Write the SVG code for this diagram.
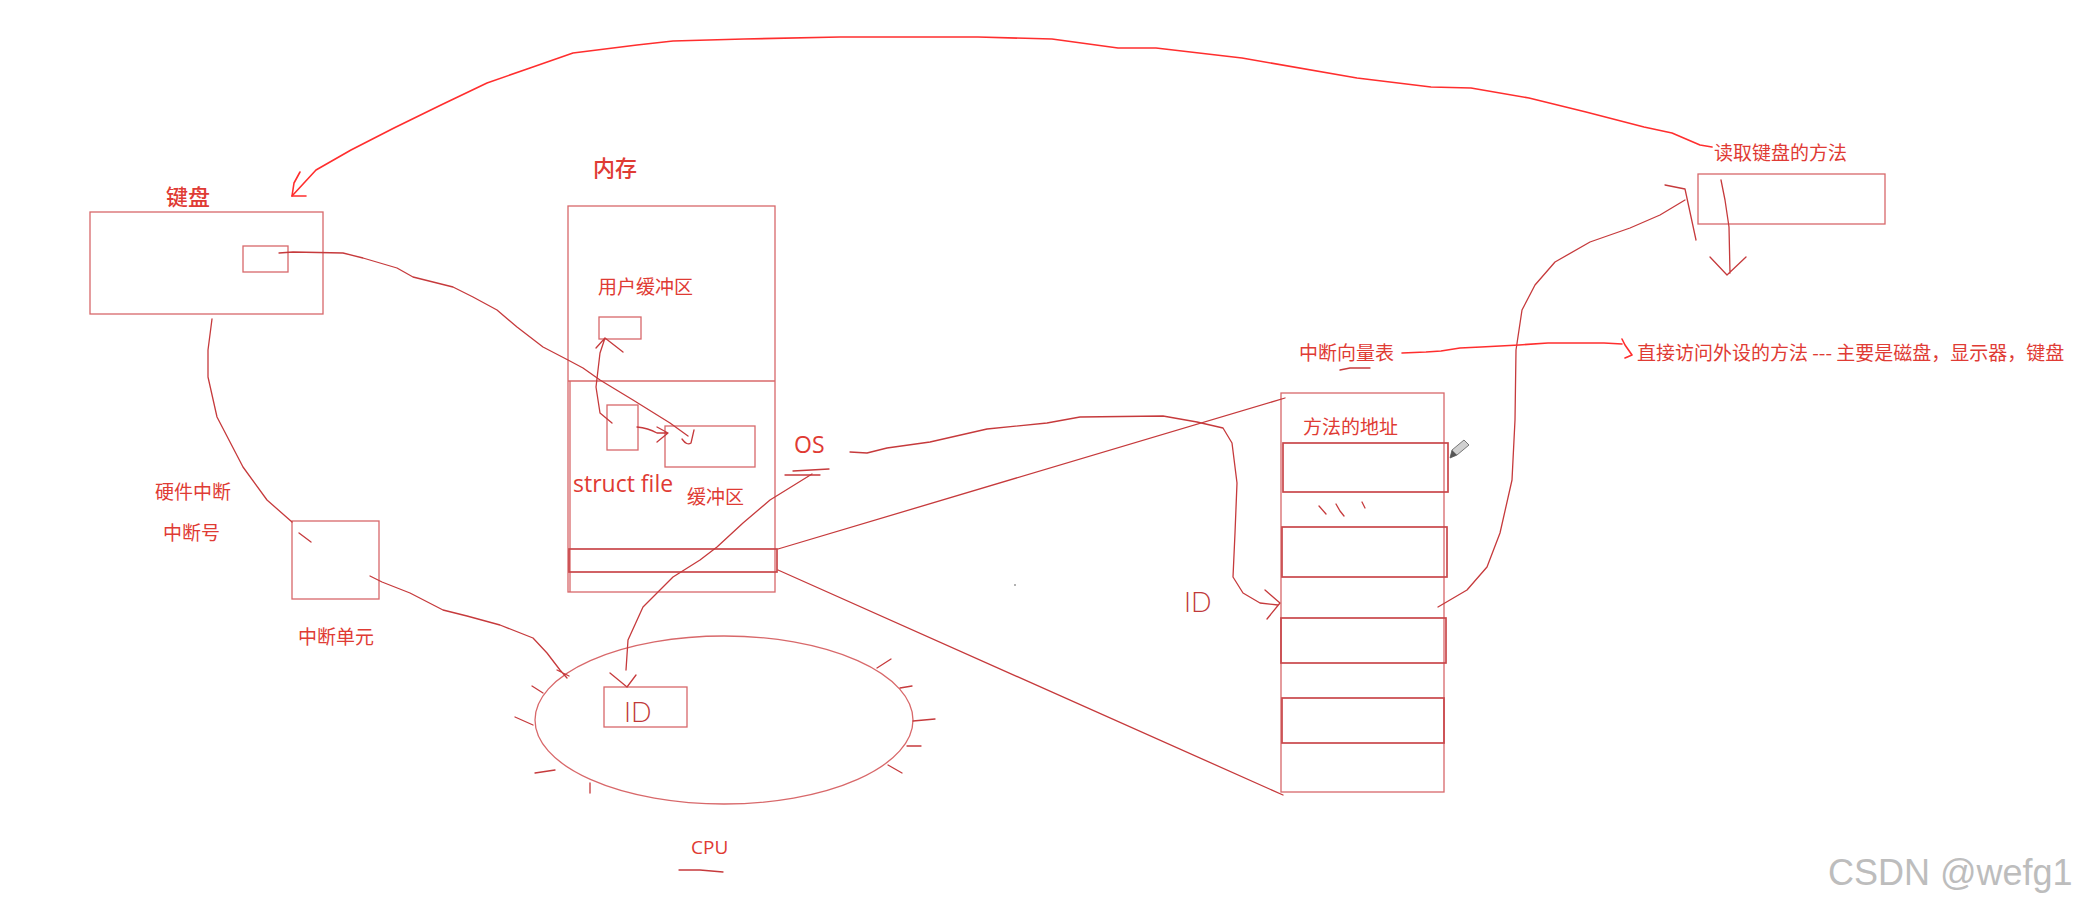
<svg xmlns="http://www.w3.org/2000/svg" width="2084" height="906" viewBox="0 0 2084 906">
<style>
.box{fill:none;stroke:#d8686a;stroke-width:1.3}
.box2{fill:none;stroke:#c9474a;stroke-width:1.7}
.ink{fill:none;stroke:#c63a3c;stroke-width:1.3;stroke-linecap:round;stroke-linejoin:round}
.bright{fill:none;stroke:#ff2e2e;stroke-width:1.6;stroke-linecap:round;stroke-linejoin:round}
.t{font-family:"Noto Sans CJK SC",sans-serif;fill:#df3b34;font-size:19px}
.big{font-size:22px;font-weight:500}
.lat{font-family:"Open Sans","Noto Sans",sans-serif;fill:#e03a33}
.hand{font-family:Lato,"Liberation Sans",sans-serif;font-weight:300;fill:#c0393a;font-size:27px}
</style>
<rect width="2084" height="906" fill="#ffffff"/>

<g id="keyboard">
<text class="t big" x="166" y="205">键盘</text>
<rect class="box" x="90" y="212" width="233" height="102"/>
<rect class="box" x="243" y="246" width="45" height="26"/>
</g>

<g id="interrupt-labels">
<text class="t" x="155" y="499">硬件中断</text>
<text class="t" x="163" y="540">中断号</text>
</g>

<g id="interrupt-unit">
<rect class="box" x="292" y="521" width="87" height="78"/>
<path class="ink" d="M299,533 L311,542"/>
<text class="t" x="298" y="644">中断单元</text>
</g>

<g id="memory">
<text class="t big" x="593" y="176">内存</text>
<rect class="box" x="568" y="206" width="207" height="386"/>
<line class="box" x1="568" y1="381" x2="775" y2="381"/>
<line class="box" x1="570" y1="381" x2="570" y2="592"/>
<text class="t" x="598" y="294">用户缓冲区</text>
<rect class="box" x="599" y="317" width="42" height="22"/>
<rect class="box" x="607" y="405" width="31" height="45"/>
<rect class="box" x="665" y="426" width="90" height="41"/>
<text class="lat" x="573" y="492" font-size="23">struct file</text>
<text class="t" x="687" y="504">缓冲区</text>
<rect class="box2" x="569" y="549" width="208" height="23"/>
</g>

<g id="os">
<text class="lat" x="794" y="453" font-size="23">OS</text>
<path class="ink" d="M785,475 L820,475 M793,471 L829,469"/>
</g>

<g id="cpu">
<ellipse class="box" cx="724" cy="720" rx="189" ry="84"/>
<rect class="box" x="604" y="687" width="83" height="40"/>
<text class="hand" x="624" y="722">ID</text>
<path class="ink" d="M532,686 L543,693 M515,717 L533,725 M535,773 L555,770 M590,783 L590,793 M877,668 L891,659 M900,688 L912,686 M913,721 L935,719 M907,746 L921,746 M888,765 L902,773"/>
<text class="lat" x="691" y="854" font-size="19">CPU</text>
<path class="ink" d="M679,870 L700,870 L723,872"/>
</g>

<g id="vector-table">
<text class="t" x="1299" y="360">中断向量表</text>
<path class="ink" d="M1340,370 L1350,368 L1370,368"/>
<rect class="box" x="1281" y="393" width="163" height="399"/>
<text class="t" x="1303" y="434">方法的地址</text>
<rect class="box2" x="1283" y="443" width="165" height="49"/>
<rect class="box2" x="1282" y="527" width="165" height="50"/>
<rect class="box2" x="1281" y="618" width="165" height="45"/>
<rect class="box2" x="1282" y="698" width="162" height="45"/>
<path class="ink" d="M1319,506 L1326,514 M1336,504 L1340,511 L1344,516 M1362,502 L1365,508"/>
<text class="hand" x="1184" y="612">ID</text>
<g id="pencil">
<path d="M1450,458 L1452,450 L1464,440 L1469,445 L1457,455 Z" fill="#d0d0d0" stroke="#777777" stroke-width="1"/>
<path d="M1450,458 L1452,450 L1457,455 Z" fill="#555555"/>
</g>
</g>

<g id="device-method">
<text class="t" x="1637" y="360">直接访问外设的方法 --- 主要是磁盘，显示器，键盘</text>
</g>

<g id="read-method">
<text class="t" x="1714" y="160">读取键盘的方法</text>
<rect class="box" x="1698" y="174" width="187" height="50"/>
</g>

<g id="connectors">
<path class="bright" d="M292,196 L316,170 L351,150 L394,128 L441,105 L487,83 L530,68 L573,53 L637,45 L673,41 L744,39 L840,37 L978,37 L1052,39 L1118,48 L1156,48 L1242,58 L1357,78 L1431,87 L1471,88 L1529,98 L1586,112 L1644,127 L1672,133 L1700,145 L1712,147"/>
<path class="bright" d="M300,172 L294,183 L292,196 L306,196"/>
<path class="ink" d="M279,253 L293,252 L343,253 L363,258 L397,268 L413,277 L453,287 L473,297 L497,310 L517,327 L543,347 L568,360 L583,368 L600,380 L633,400 L670,423 L688,436"/>
<path class="ink" d="M682,439 Q687,446 691,443 L694,430"/>
<path class="ink" d="M612,423 L600,413 L596,387 L600,353 L605,338 M596,348 L605,338 L623,352"/>
<path class="ink" d="M637,427 Q648,428 657,433 L668,433 M657,427 L668,433 L657,442"/>
<path class="ink" d="M212,319 L208,350 L208,377 L217,417 L243,467 L267,500 L292,522"/>
<path class="ink" d="M370,576 L382,582 L410,593 L443,610 L467,616 L500,625 L533,638 L547,653 L560,670 L567,678 M557,670 L569,676"/>
<path class="ink" d="M812,474 L770,500 L743,523 L717,547 L700,560 L673,577 L643,607 L628,640 L626,670 M610,673 L627,687 L636,675"/>
<path class="ink" d="M850,452 L867,453 L887,448 L930,442 L987,429 L1047,423 L1080,417 L1163,416 L1197,422 L1223,428 L1232,443 L1237,483 L1235,533 L1233,577 L1243,593 L1260,603 L1278,605 M1265,590 L1280,603 L1267,619"/>
<path class="ink" d="M778,549 L1285,398 M778,570 L1283,795"/>
<path class="ink" d="M1438,607 L1467,590 L1487,567 L1500,533 L1512,480 L1515,420 L1516,350 L1522,310 L1535,285 L1555,262 L1590,242 L1630,228 L1660,215 L1685,200 M1665,185 L1685,189 L1696,240"/>
<path class="bright" d="M1402,353 L1426,352 L1441,351 L1460,348 L1481,347 L1519,345 L1548,343 L1604,343 L1622,344 M1622,339 L1625,345 L1632,355 L1625,358"/>
<path class="ink" d="M1721,180 L1725,200 L1729,227 L1730,273 M1710,257 L1727,275 L1746,257"/>
</g>

<circle cx="1015" cy="585" r="1" fill="#999999"/>
<text x="1828" y="885" font-family="Liberation Sans, sans-serif" font-size="36" fill="#bdbdbd">CSDN @wefg1</text>
</svg>
